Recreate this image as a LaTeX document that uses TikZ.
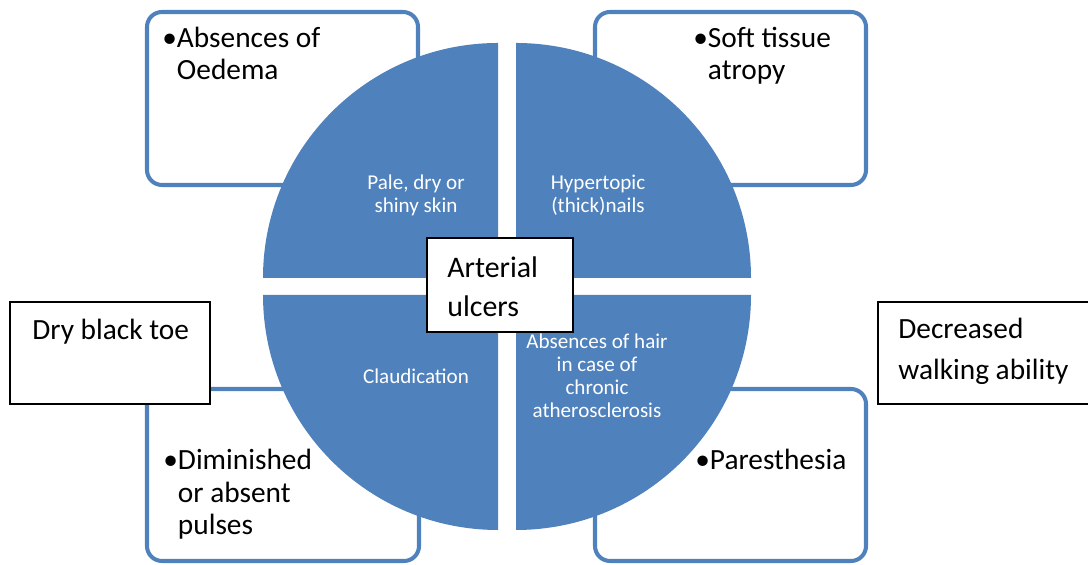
\documentclass[tikz,border=0pt]{standalone}
\usepackage{fontspec}
\setmainfont{Carlito}
\definecolor{qblue}{HTML}{4F81BD}
\begin{document}
\begin{tikzpicture}[
    sidebox/.style={draw=qblue, line width=2.3pt, rounded corners=0.3cm, fill=white},
    quarter/.style={fill=qblue},
    plainbox/.style={draw=black, line width=1.1pt, fill=white},
    bigtext/.style={inner sep=0pt, anchor=base west, align=left, font=\fontsize{16.7}{18.7}\selectfont},
    qtext/.style={inner sep=0pt, anchor=base, align=center, text=white, font=\fontsize{12}{13.1}\selectfont}]
            \useasboundingbox (0,0) rectangle (21.76,11.3);

            % blue boxes behind the circle
            \draw[sidebox] (2.94,11.06) rectangle (8.36,7.6);
            \draw[sidebox] (11.9,11.06) rectangle (17.32,7.6);
            \draw[sidebox] (2.94,3.52) rectangle (8.38,0.08);
            \draw[sidebox] (11.9,3.52) rectangle (17.32,0.08);

            % four quarters
            \fill[quarter] (9.96,5.74) -- ++(-4.7,0) arc (180:90:4.7) -- cycle;
            \fill[quarter] (10.32,5.74) -- ++(0,4.7) arc (90:0:4.7) -- cycle;
            \fill[quarter] (9.96,5.4) -- ++(-4.7,0) arc (180:270:4.7) -- cycle;
            \fill[quarter] (10.32,5.4) -- ++(4.7,0) arc (0:-90:4.7) -- cycle;

            % last line baselines
            \node[qtext] (skin) at (8.32,7.04) {Pale, dry or\\shiny skin};
            \node[qtext] (nails) at (11.96,7.04) {Hypertopic\\(thick)nails};
            \node[qtext] (claud) at (8.32,3.62) {Claudication};
            \node[qtext] (hair) at (11.94,2.94) {Absences of hair\\in case of\\chronic\\atherosclerosis};

            \node[bigtext] (oedema) at (3.24,9.7) {•Absences of\\\hphantom{•}Oedema};
            \node[bigtext] (tissue) at (13.86,9.7) {•Soft tissue\\\hphantom{•}atropy};
            \node[bigtext] (pulses) at (3.26,0.6) {•Diminished\\\hphantom{•}or absent\\\hphantom{•}pulses};
            \node[bigtext] (pares) at (13.9,1.9) {•Paresthesia};

            % black boxes on top
            \draw[plainbox] (8.54,6.54) rectangle (11.46,4.66);
            \node[bigtext, font=\fontsize{17}{22.7}\selectfont] (ulcer) at (8.94,4.96) {Arterial\\ulcers};
            \draw[plainbox] (0.2,5.26) rectangle (4.2,3.22);
            \node[bigtext] (toe) at (0.64,4.5) {Dry black toe};
            \draw[plainbox] (17.56,5.26) rectangle (21.8,3.22);
            \node[bigtext, font=\fontsize{16.7}{23.8}\selectfont] (walk) at (17.96,3.7) {Decreased\\walking ability};
\end{tikzpicture}
\end{document}
